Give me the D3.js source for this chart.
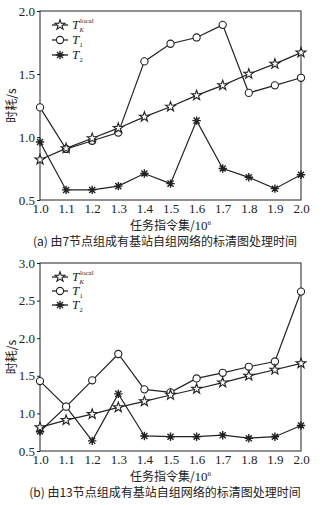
<!DOCTYPE html>
<html>
<head>
<meta charset="utf-8">
<script src="https://cdn.jsdelivr.net/npm/d3@7"></script>
<style>
  body { margin: 0; background: #fff; }
  svg text { fill: #222; }
</style>
</head>
<body>
<div id="chart"></div>
<script>
const xValues = [1.0, 1.1, 1.2, 1.3, 1.4, 1.5, 1.6, 1.7, 1.8, 1.9, 2.0];
const xTicks = [1.0, 1.1, 1.2, 1.3, 1.4, 1.5, 1.6, 1.7, 1.8, 1.9, 2.0];

// panel (a): 7 nodes
const aLocal = [0.82, 0.91, 0.99, 1.07, 1.16, 1.24, 1.33, 1.41, 1.50, 1.58, 1.67];
const aT1 = [1.235, 0.905, 0.97, 1.035, 1.60, 1.74, 1.79, 1.89, 1.35, 1.41, 1.47];
const aT2 = [0.96, 0.58, 0.58, 0.61, 0.71, 0.63, 1.13, 0.75, 0.68, 0.59, 0.70];
const aYTicks = [0.5, 1.0, 1.5, 2.0];

// panel (b): 13 nodes
const bLocal = [0.815, 0.91, 0.99, 1.08, 1.16, 1.245, 1.325, 1.41, 1.50, 1.58, 1.665];
const bT1 = [1.43, 1.09, 1.44, 1.79, 1.32, 1.28, 1.465, 1.54, 1.62, 1.69, 2.62];
const bT2 = [0.76, 1.09, 0.635, 1.26, 0.70, 0.69, 0.69, 0.71, 0.67, 0.69, 0.84];
const bYTicks = [0.5, 1.0, 1.5, 2.0, 2.5, 3.0];

const ink = '#222';
const serif = "'Liberation Serif', 'DejaVu Serif', serif";
const cjk = "'Noto Sans CJK SC', sans-serif";

const svg = d3.select('#chart').append('svg')
  .attr('width', 325).attr('height', 505);

function starPath(R) {
  const r = R * 0.4;
  const pts = [];
  for (let i = 0; i < 10; i++) {
    const a = -Math.PI / 2 + i * Math.PI / 5;
    const rad = i % 2 === 0 ? R : r;
    pts.push([rad * Math.cos(a), rad * Math.sin(a)]);
  }
  return 'M' + pts.map(p => p[0].toFixed(2) + ',' + p[1].toFixed(2)).join('L') + 'Z';
}

function drawMarker(sel, type) {
  if (type === 'star') {
    sel.append('path').attr('d', starPath(5.2))
      .attr('fill', '#fff').attr('stroke', ink).attr('stroke-width', 1.1);
  } else if (type === 'circle') {
    sel.append('circle').attr('r', 3.6)
      .attr('fill', '#fff').attr('stroke', ink).attr('stroke-width', 1.1);
  } else {
    const s = 4.2, d = s * 0.72;
    sel.append('path')
      .attr('d', `M${-s},0L${s},0M0,${-s}L0,${s}M${-d},${-d}L${d},${d}M${-d},${d}L${d},${-d}`)
      .attr('stroke', ink).attr('stroke-width', 1.4);
  }
}

function drawPanel(cfg) {
  const g = svg.append('g');
  const x = d3.scaleLinear().domain([1.0, 2.0]).range([cfg.left, cfg.right]);
  const y = d3.scaleLinear().domain([0.5, cfg.yMax]).range([cfg.bottom, cfg.top]);

  // frame
  g.append('rect')
    .attr('x', cfg.left).attr('y', cfg.top)
    .attr('width', cfg.right - cfg.left).attr('height', cfg.bottom - cfg.top)
    .attr('fill', 'none').attr('stroke', ink).attr('stroke-width', 1);

  const yAxis = g.append('g').attr('transform', `translate(${cfg.left},0)`)
    .call(d3.axisLeft(y).tickValues(cfg.yTicks).tickFormat(d3.format('.1f')).tickSize(3).tickPadding(2));
  const xAxis = g.append('g').attr('transform', `translate(0,${cfg.bottom})`)
    .call(d3.axisBottom(x).tickValues(xTicks).tickFormat(d3.format('.1f')).tickSize(0).tickPadding(4));
  [xAxis, yAxis].forEach(a => {
    a.attr('font-family', null).attr('font-size', null);
    a.select('.domain').remove();
    a.selectAll('.tick line').attr('stroke', ink);
    a.selectAll('text').style('font-family', serif).style('font-size', '13px').attr('fill', ink);
  });

  const line = d3.line().x((d, i) => x(xValues[i])).y(d => y(d));
  const series = [
    { vals: cfg.t2, type: 'ast' },
    { vals: cfg.t1, type: 'circle' },
    { vals: cfg.local, type: 'star' }
  ];
  series.forEach(s => {
    g.append('path').datum(s.vals).attr('d', line)
      .attr('fill', 'none').attr('stroke', ink).attr('stroke-width', 1.2);
  });
  series.forEach(s => {
    s.vals.forEach((v, i) => {
      const m = g.append('g').attr('transform', `translate(${x(xValues[i])},${y(v)})`);
      drawMarker(m, s.type);
    });
  });

  // legend
  const lx = cfg.left + 12;
  const items = [
    { type: 'star', main: 'T', sub: 'K', sup: 'local' },
    { type: 'circle', main: 'T', sub: '1' },
    { type: 'ast', main: 'T', sub: '2' }
  ];
  items.forEach((it, i) => {
    const ly = cfg.legendY[i];
    g.append('line').attr('x1', lx).attr('x2', lx + 16).attr('y1', ly).attr('y2', ly)
      .attr('stroke', ink).attr('stroke-width', 1.3);
    drawMarker(g.append('g').attr('transform', `translate(${lx + 8},${ly})`), it.type);
    g.append('text').attr('x', lx + 20).attr('y', ly + 4)
      .style('font-family', serif).style('font-size', '13px').style('font-style', 'italic')
      .text(it.main);
    if (it.sup) {
      g.append('text').attr('x', lx + 28).attr('y', ly - 2)
        .style('font-family', serif).style('font-size', '7px').text(it.sup);
    }
    g.append('text').attr('x', lx + 27.5).attr('y', ly + 6.5)
      .style('font-family', serif).style('font-size', '6.5px')
      .style('font-style', it.sub === 'K' ? 'italic' : 'normal').text(it.sub);
  });

  // y title
  g.append('text')
    .attr('transform', `translate(${cfg.left - 24},${(cfg.top + cfg.bottom) / 2}) rotate(-90)`)
    .attr('text-anchor', 'middle').style('font-family', cjk).style('font-size', '12px')
    .text('时耗/s');

  // x title
  const xt = g.append('text').attr('x', (cfg.left + cfg.right) / 2).attr('y', cfg.bottom + 30)
    .attr('text-anchor', 'middle').style('font-family', cjk).style('font-size', '12px');
  xt.append('tspan').text('任务指令集/');
  xt.append('tspan').style('font-family', serif).style('font-size', '13px').text('10');
  xt.append('tspan').style('font-family', serif).style('font-size', '7px').attr('dy', -5).text('6');

  g.append('text').attr('x', 165).attr('y', cfg.bottom + 46)
    .attr('text-anchor', 'middle').style('font-family', cjk).style('font-size', '12px')
    .text(cfg.caption);
}

drawPanel({
  left: 40, right: 301, top: 11, bottom: 200, yMax: 2.0, yTicks: aYTicks,
  local: aLocal, t1: aT1, t2: aT2, legendY: [25, 40, 55],
  caption: '(a) 由7节点组成有基站自组网络的标清图处理时间'
});

drawPanel({
  left: 40, right: 301, top: 263, bottom: 451, yMax: 3.0, yTicks: bYTicks,
  local: bLocal, t1: bT1, t2: bT2, legendY: [277, 291, 305],
  caption: '(b) 由13节点组成有基站自组网络的标清图处理时间'
});
</script>
</body>
</html>
